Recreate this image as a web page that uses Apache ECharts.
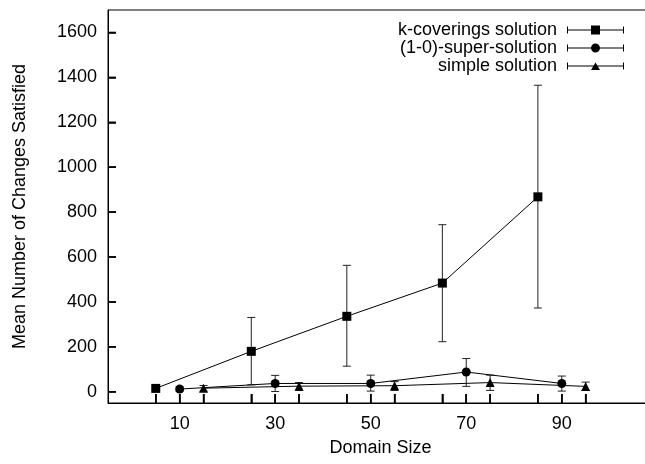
<!DOCTYPE html>
<html>
<head>
<meta charset="utf-8">
<script src="https://cdn.jsdelivr.net/npm/echarts@6/dist/echarts.min.js"></script>
<style>html,body{margin:0;padding:0;background:#fff}#c{width:645px;height:464px}</style>
</head>
<body>
<div id="c"></div>
<script>
// ---- data ----
const seriesNames = ['k-coverings solution', '(1-0)-super-solution', 'simple solution'];
const kcovX = [5, 25, 45, 65, 85];
const kcovMean = [15, 180, 336, 484, 868];
const kcovLow = [5, 31, 114, 223, 373];
const kcovHigh = [25, 331, 563, 744, 1365];

const superX = [10, 30, 50, 70, 90];
const superMean = [12, 37, 37, 88, 37];
const superLow = [2, 1, 3, 24, 3];
const superHigh = [24, 73, 74, 148, 70];

const simpleX = [15, 35, 55, 75, 95];
const simpleMean = [16, 25, 27, 41, 24];
const simpleLow = [3, 6, 6, 6, 6];
const simpleHigh = [28, 41, 45, 74, 43];

const xTickValues = [5, 10, 15, 25, 30, 35, 45, 50, 55, 65, 70, 75, 85, 90, 95];
const xLabelValues = [10, 30, 50, 70, 90];
const yTickValues = [0, 200, 400, 600, 800, 1000, 1200, 1400, 1600];

// ---- build ----
const FONT = "'Liberation Sans', Arial, sans-serif";
const X_MIN = -5, X_MAX = 109.1, Y_MIN = -50, Y_MAX = 1700;
const zip = (xs, ys) => xs.map((x, i) => [x, ys[i]]);
const zip3 = (xs, lo, hi) => xs.map((x, i) => [x, lo[i], hi[i]]);

function errRender(params, api) {
  const x = api.value(0);
  const lo = api.coord([x, api.value(1)]);
  const hi = api.coord([x, api.value(2)]);
  const hw = 4;
  const st = { stroke: '#222', lineWidth: 1 };
  return {
    type: 'group',
    children: [
      { type: 'line', shape: { x1: lo[0], y1: lo[1], x2: hi[0], y2: hi[1] }, style: st },
      { type: 'line', shape: { x1: lo[0] - hw, y1: lo[1], x2: lo[0] + hw, y2: lo[1] }, style: st },
      { type: 'line', shape: { x1: hi[0] - hw, y1: hi[1], x2: hi[0] + hw, y2: hi[1] }, style: st }
    ]
  };
}

const base = 'M0 4h57v1H0z M0 1h1v7H0z M56 1h1v7h-1z ';
const icons = [
  'path://' + base + 'M24 0h9v9h-9z',
  'path://' + base + 'M33 4.5A4.5 4.5 0 1 1 24 4.5A4.5 4.5 0 1 1 33 4.5z',
  'path://' + base + 'M28.5 1L33 8.5L24 8.5z M0 0h0.01v0.01H0z M0 8.99h0.01V9H0z'
];

const lineSeries = (name, data, symbol) => ({
  name, type: 'line', data, symbol, symbolSize: 9,
  showSymbol: true, z: 3,
  lineStyle: { color: '#000', width: 1 },
  itemStyle: { color: '#000' },
  emphasis: { disabled: true },
  animation: false
});
const errSeries = (data) => ({
  type: 'custom', renderItem: errRender, data, z: 2, animation: false, silent: true,
  encode: { x: 0, y: [1, 2] }
});

const chart = echarts.init(document.getElementById('c'), null, { renderer: 'canvas' });
chart.setOption({
  animation: false,
  backgroundColor: '#fff',
  textStyle: { fontFamily: FONT },
  grid: { left: 108, top: 10, width: 545, bottom: 61, outerBoundsMode: 'none', containLabel: false, show: true, borderColor: '#000', borderWidth: 1, backgroundColor: 'transparent' },
  legend: {
    orient: 'vertical', right: 16, top: 16, align: 'right', itemGap: 0,
    itemWidth: 57, itemHeight: 9,
    textStyle: { fontSize: 18, color: '#000', fontFamily: FONT, padding: [0, 5, 0, 0] },
    data: seriesNames.map((n, i) => ({ name: n, icon: icons[i] })),
    selectedMode: false
  },
  xAxis: {
    type: 'value', min: X_MIN, max: X_MAX,
    name: 'Domain Size', nameLocation: 'middle', nameGap: 36,
    nameTextStyle: { fontSize: 18, color: '#000', fontFamily: FONT },
    axisLine: { show: true, onZero: false, lineStyle: { color: '#000', width: 1 } },
    axisTick: { show: true, inside: true, length: 9, customValues: xTickValues, lineStyle: { color: '#000', width: 1.5 } },
    axisLabel: { fontSize: 18, color: '#000', margin: 12, customValues: xLabelValues, fontFamily: FONT, formatter: v => String(v) },
    splitLine: { show: false }
  },
  yAxis: {
    type: 'value', min: Y_MIN, max: Y_MAX,
    name: 'Mean Number of Changes Satisfied', nameLocation: 'middle', nameGap: 79,
    nameTextStyle: { fontSize: 18, color: '#000', fontFamily: FONT },
    axisLine: { show: true, onZero: false, lineStyle: { color: '#000', width: 1 } },
    axisTick: { show: true, inside: true, length: 8, customValues: yTickValues, lineStyle: { color: '#000', width: 1.5 } },
    axisLabel: { fontSize: 18, color: '#000', margin: 11, customValues: yTickValues, fontFamily: FONT, formatter: v => String(v) },
    splitLine: { show: false }
  },
  series: [
    errSeries(zip3(kcovX, kcovLow, kcovHigh)),
    errSeries(zip3(superX, superLow, superHigh)),
    errSeries(zip3(simpleX, simpleLow, simpleHigh)),
    lineSeries(seriesNames[0], zip(kcovX, kcovMean), 'rect'),
    lineSeries(seriesNames[1], zip(superX, superMean), 'circle'),
    lineSeries(seriesNames[2], zip(simpleX, simpleMean), 'triangle')
  ]
});

// inward tick marks, placed through the chart's own axis scales
const tickEls = [];
xTickValues.forEach(v => {
  const p = chart.convertToPixel({ gridIndex: 0 }, [v, Y_MIN]);
  tickEls.push({ type: 'line', silent: true, z: 10, shape: { x1: p[0], y1: p[1], x2: p[0], y2: p[1] - 9 }, style: { stroke: '#000', lineWidth: 1.5 } });
});
yTickValues.forEach(v => {
  const p = chart.convertToPixel({ gridIndex: 0 }, [X_MIN, v]);
  tickEls.push({ type: 'line', silent: true, z: 10, shape: { x1: p[0], y1: p[1], x2: p[0] + 8, y2: p[1] }, style: { stroke: '#000', lineWidth: 1.5 } });
});
chart.setOption({ graphic: { elements: tickEls } });
</script>
</body>
</html>
